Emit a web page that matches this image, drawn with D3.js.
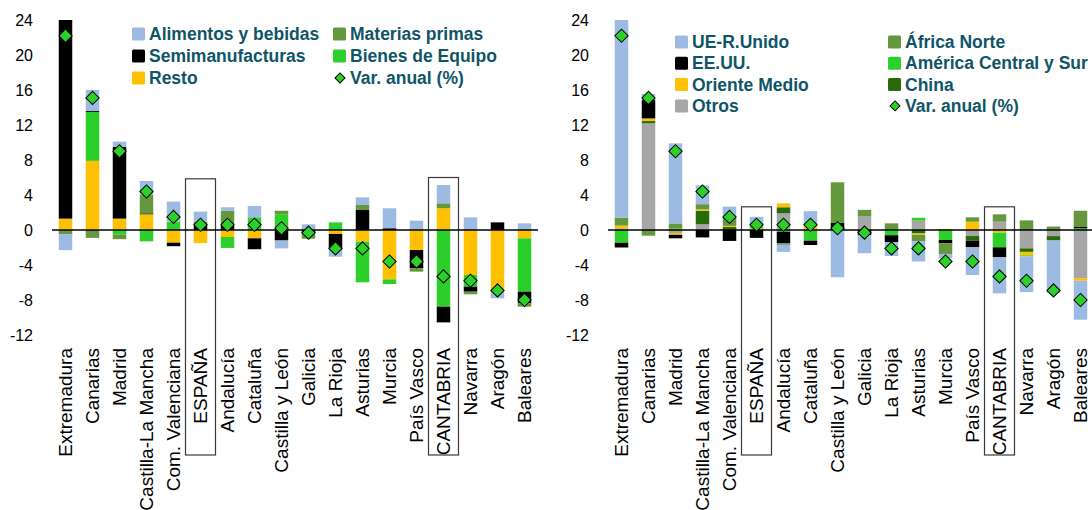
<!DOCTYPE html>
<html>
<head>
<meta charset="utf-8">
<script src="https://cdn.jsdelivr.net/npm/d3@7"></script>
<style>
  body { margin: 0; background: #fff; }
  svg text { font-family: "Liberation Sans", Arial, sans-serif; }
  .tick-lbl { font-size: 16px; fill: #000; }
  .cat-lbl { font-size: 19px; fill: #000; }
  .leg-lbl { font-size: 17.5px; font-weight: bold; fill: #0f5568; }
</style>
</head>
<body>
<div class="plot"></div>
<script>
// regions, same order in both charts
var regions = ["Extremadura","Canarias","Madrid","Castilla-La Mancha","Com. Valenciana","ESPAÑA",
  "Andalucía","Cataluña","Castilla y León","Galicia","La Rioja","Asturias","Murcia","País Vasco",
  "CANTABRIA","Navarra","Aragón","Baleares"];

// var. anual (%) of exports
var varAnual = [22.2,15.1,9.0,4.4,1.5,0.6,0.6,0.6,0.2,-0.3,-2.1,-2.1,-3.6,-3.6,-5.3,-5.8,-6.9,-8.0];

// left chart: contributions by product
var alimentos      = [-1.8,2.4,0.6,1.6,2.3,1.15,0.4,1.3,-0.9,0.65,-0.95,0.87,2.28,1.0,2.1,1.45,-0.64,0.76];
var semimanuf      = [23.2,0.1,8.2,0.1,-0.4,0.65,0.55,-1.25,-1.2,-0.4,-1.65,2.29,0.2,-2.09,-1.8,-0.57,0.87,-1.33];
var resto          = [1.3,7.9,1.3,1.8,-1.45,-1.5,-0.8,-0.95,0,0,-0.45,-1.33,-5.64,-2.29,2.48,-5.14,-7.16,-0.95];
var materiasPrimas = [-0.5,-0.9,-0.55,2.1,0,0.3,1.65,0,0.4,-0.6,0,0.57,0,-0.38,0.57,-0.3,0,-0.38];
var bienesEquipo   = [0,5.6,-0.5,-1.3,0.95,0,-1.25,1.45,1.8,0,0.87,-4.65,-0.53,0.07,-8.76,-1.34,0,-6.1];

// right chart: contributions by destination
var ueRUnido     = [22.8,0.7,9.15,2.15,1.15,1.1,-0.8,1.5,-5.4,-2.05,-1.6,-2.3,-0.5,-3.16,-4.12,-4.1,-6.0,-4.45];
var eeuu         = [-0.55,2.1,-0.4,-0.85,-1.25,-0.9,-1.3,-0.5,0.85,-0.6,-0.77,0,-0.38,-0.76,-1.14,0,0,0.2];
var orienteMedio = [0.3,0.3,-0.2,0.15,0.12,0.2,0.45,0.65,0,0,0,-0.15,0.1,0.95,-0.3,-0.4,0,-0.3];
var otros        = [0.2,12.2,-0.35,0.65,0,0,1.9,0,0,1.6,0,1.07,0,-0.69,0.95,-2.1,-0.7,-5.5];
var africaNorte  = [0.9,-0.65,0.55,0.6,1.05,0,-0.2,0,4.6,0.7,0.76,-0.75,-1.22,0.5,0.84,1.1,0.4,1.8];
var americaCS    = [-1.45,0,0.2,0,0,0.2,-0.2,-1.22,0,0,-0.6,0.33,-1.14,0,-1.68,-0.1,0,0.2];
var china        = [0,0.25,0,1.55,0.35,0,0.7,0,0,0,0,-0.4,0,-0.53,0,-0.4,-0.5,0];

var yTicks = [24,20,16,12,8,4,0,-4,-8,-12];

var colors = {
  blue: "#9dbbe2", black: "#000000", yellow: "#ffc000", olive: "#65983d",
  green: "#2dcf2b", dkgreen: "#296a0b", gray: "#a6a6a6"
};

var leftSeries = [
  {key:"Alimentos y bebidas", values:alimentos, color:colors.blue},
  {key:"Semimanufacturas", values:semimanuf, color:colors.black},
  {key:"Resto", values:resto, color:colors.yellow},
  {key:"Materias primas", values:materiasPrimas, color:colors.olive},
  {key:"Bienes de  Equipo", values:bienesEquipo, color:colors.green}
];
var leftStackOrder = ["Resto","Bienes de  Equipo","Semimanufacturas","Materias primas","Alimentos y bebidas"];
var leftLegend = [["Alimentos y bebidas","Materias primas"],["Semimanufacturas","Bienes de  Equipo"],["Resto","Var. anual (%)"]];

var rightSeries = [
  {key:"UE-R.Unido", values:ueRUnido, color:colors.blue},
  {key:"EE.UU.", values:eeuu, color:colors.black},
  {key:"Oriente Medio", values:orienteMedio, color:colors.yellow},
  {key:"Otros", values:otros, color:colors.gray},
  {key:"África Norte", values:africaNorte, color:colors.olive},
  {key:"América Central y Sur", values:americaCS, color:colors.green},
  {key:"China", values:china, color:colors.dkgreen}
];
var rightStackOrder = ["Otros","China","Oriente Medio","América Central y Sur","EE.UU.","África Norte","UE-R.Unido"];
var rightLegend = [["UE-R.Unido","África Norte"],["EE.UU.","América Central y Sur"],["Oriente Medio","China"],["Otros","Var. anual (%)"]];

var W = 1092, H = 510;
var svg = d3.select(".plot").append("svg").attr("width", W).attr("height", H);

svg.append("defs").append("clipPath").attr("id","clipTop")
  .append("rect").attr("x",0).attr("y",20).attr("width",W).attr("height",H);

var y = d3.scaleLinear().domain([-12,24]).range([335,20]);

function drawPanel(cfg){
  var x = d3.scaleBand().domain(regions).range(cfg.xRange).paddingInner(0.5).paddingOuter(0.25);
  var g = svg.append("g");

  var rows = regions.map(function(r,i){
    var o = {region:r};
    cfg.series.forEach(function(s){ o[s.key] = s.values[i]; });
    return o;
  });
  var colorOf = {};
  cfg.series.forEach(function(s){ colorOf[s.key] = s.color; });

  var stacked = d3.stack().keys(cfg.order).offset(d3.stackOffsetDiverging)(rows);

  // highlight boxes
  cfg.boxes.forEach(function(b){
    var cx = x(b.region) + x.bandwidth()/2;
    g.append("rect")
      .attr("x", cx - 15).attr("y", y(b.top))
      .attr("width", 30).attr("height", 455 - y(b.top))
      .attr("fill","none").attr("stroke","#3a3a3a").attr("stroke-width",1.2);
  });

  // bars
  var bars = g.append("g").attr("clip-path","url(#clipTop)");
  bars.selectAll("g.series").data(stacked).enter().append("g")
    .attr("fill", function(d){ return colorOf[d.key]; })
    .selectAll("rect").data(function(d){ return d; }).enter().append("rect")
    .attr("x", function(d){ return x(d.data.region); })
    .attr("width", x.bandwidth())
    .attr("y", function(d){ return y(Math.max(d[0],d[1])); })
    .attr("height", function(d){ return Math.abs(y(d[0]) - y(d[1])); });

  // zero line
  g.append("line")
    .attr("x1", cfg.xRange[0]).attr("x2", cfg.xRange[1])
    .attr("y1", y(0)).attr("y2", y(0))
    .attr("stroke","#000").attr("stroke-width",1.5);

  // diamonds
  var diamond = d3.symbol().type(d3.symbolSquare).size(88);
  g.selectAll("path.var").data(varAnual).enter().append("path")
    .attr("class","var")
    .attr("d", diamond)
    .attr("transform", function(d,i){
      return "translate(" + (x(regions[i]) + x.bandwidth()/2) + "," + y(d) + ") rotate(45)";
    })
    .attr("fill", colors.green).attr("stroke","#000").attr("stroke-width",1);

  // y tick labels
  g.selectAll("text.tick-lbl").data(yTicks).enter().append("text")
    .attr("class","tick-lbl")
    .attr("x", cfg.xRange[0] - 19).attr("y", function(d){ return y(d); })
    .attr("text-anchor","end").attr("dominant-baseline","central")
    .text(function(d){ return d; });

  // category labels
  g.selectAll("text.cat-lbl").data(regions).enter().append("text")
    .attr("class","cat-lbl")
    .attr("transform", function(d){ return "translate(" + (x(d) + x.bandwidth()/2) + ",348) rotate(-90)"; })
    .attr("text-anchor","end").attr("dominant-baseline","central")
    .text(function(d){ return d; });

  // legend
  var leg = g.append("g");
  cfg.legend.forEach(function(row, ri){
    row.forEach(function(name, ci){
      var lx = cfg.legX[ci], ly = cfg.legY0 + ri*cfg.legDy;
      if (name === "Var. anual (%)") {
        leg.append("path").attr("d", d3.symbol().type(d3.symbolSquare).size(50))
          .attr("transform","translate(" + (lx + 7) + "," + ly + ") rotate(45)")
          .attr("fill", colors.green).attr("stroke","#000").attr("stroke-width",1);
      } else {
        leg.append("rect").attr("x", lx).attr("y", ly - 6.5).attr("width",13).attr("height",13)
          .attr("rx",1.5).attr("fill", colorOf[name]);
      }
      leg.append("text").attr("class","leg-lbl")
        .attr("x", lx + 17).attr("y", ly).attr("dominant-baseline","central")
        .text(name);
    });
  });
}

drawPanel({
  xRange:[52,538], series:leftSeries, order:leftStackOrder,
  boxes:[{region:"ESPAÑA", top:5.85},{region:"CANTABRIA", top:6.0}],
  legend:leftLegend, legX:[132,333], legY0:34, legDy:22
});

drawPanel({
  xRange:[608,1094], series:rightSeries, order:rightStackOrder,
  boxes:[{region:"ESPAÑA", top:2.65},{region:"CANTABRIA", top:2.65}],
  legend:rightLegend, legX:[675,888], legY0:42, legDy:21.3
});
</script>
</body>
</html>
